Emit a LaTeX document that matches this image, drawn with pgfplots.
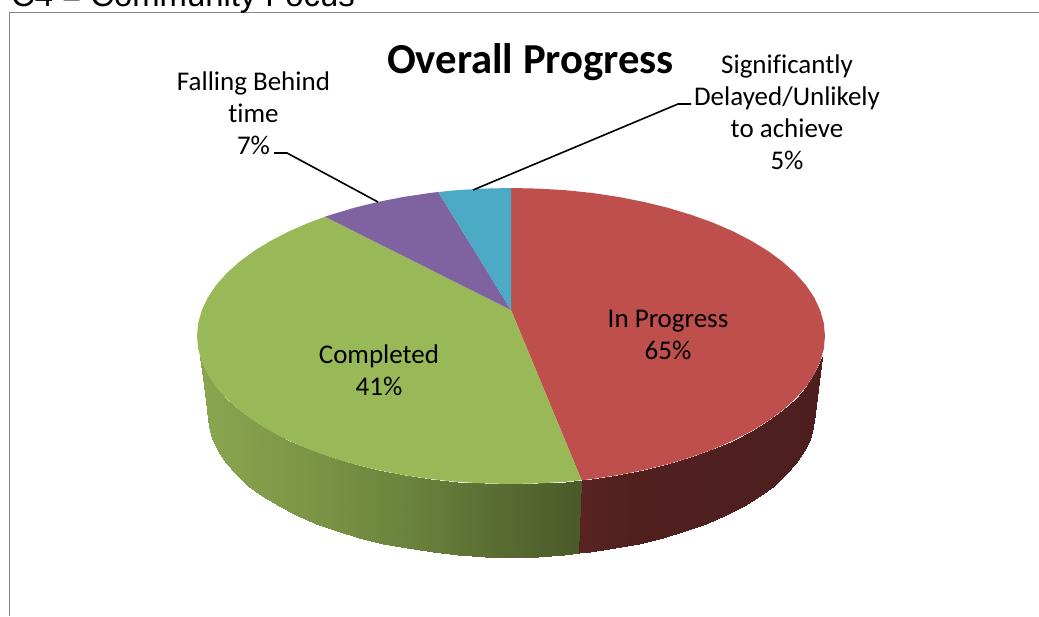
\documentclass[border=0pt]{standalone}
\usepackage{pgfplots}
\pgfplotsset{compat=1.18}
\usepackage{fontspec}
\setmainfont{Carlito}[Ligatures={NoCommon}]
\newfontfamily\arialf{Liberation Sans}
\definecolor{pr}{HTML}{BE4F4C}
\definecolor{pg}{HTML}{99B958}
\definecolor{pp}{HTML}{7F63A0}
\definecolor{pb}{HTML}{4BAAC5}
\definecolor{fr}{HTML}{868686}
\pgfplotstableread{
x y
200.1 356.6
201.0 359.0
201.8 361.7
207.7 374.3
215.9 386.6
226.4 398.5
239.1 410.0
253.8 420.9
270.5 431.1
289.0 440.7
309.2 449.4
330.9 457.2
354.0 464.2
378.3 470.1
403.6 475.1
429.7 479.0
456.5 481.8
483.6 483.4
511.0 484.0
538.4 483.4
565.5 481.8
581.6 480.2
207.5 414.0
208.7 426.5
212.1 438.8
217.8 451.0
225.8 462.9
235.9 474.4
248.2 485.5
262.4 496.0
278.5 505.9
296.4 515.1
315.9 523.5
336.9 531.1
359.2 537.8
382.7 543.6
407.2 548.4
432.5 552.1
458.3 554.8
484.5 556.5
511.0 557.0
537.5 556.5
563.7 554.8
579.3 553.3
}\greenwall
\pgfplotstableread{
x y
581.6 480.2
592.3 479.0
618.4 475.1
643.7 470.1
668.0 464.2
691.1 457.2
712.8 449.4
733.0 440.7
751.5 431.1
768.2 420.9
782.9 410.0
795.6 398.5
806.1 386.6
814.3 374.3
820.2 361.7
821.0 359.0
822.0 356.6
579.3 553.3
589.5 552.1
614.8 548.4
639.3 543.6
662.8 537.8
685.1 531.1
706.1 523.5
725.6 515.1
743.5 505.9
759.6 496.0
773.8 485.5
786.1 474.4
796.2 462.9
804.2 451.0
809.9 438.8
813.3 426.5
814.5 414.0
}\redwall
\begin{document}
\begin{tikzpicture}
\path[use as bounding box] (0,0) rectangle (1039pt,616pt);
\clip (0,0) rectangle (1039pt,616pt);
\begin{axis}[at={(0,0)},anchor=south west,scale only axis,width=1039pt,height=616pt,
  xmin=0,xmax=1039,ymin=0,ymax=616,y dir=reverse,hide axis,clip=false,
  point meta min=197,point meta max=825,
  axis line style={draw=none}]
% frame
\addplot[fr,line width=1.7pt] coordinates {(1039,12.5)(9.5,12.5)(9.5,616)};
% walls
\addplot[surf,shader=interp,mesh/rows=2,mesh/ordering=x varies,point meta=x,
  colormap={gw}{rgb255(0cm)=(139,166,80); rgb255(1.64cm)=(125,150,71); rgb255(3.23cm)=(108,133,62); rgb255(4.82cm)=(88,108,50); rgb255(6.13cm)=(74,90,40); rgb255(10cm)=(74,90,40)}]
  table[x=x,y=y]{\greenwall};
\addplot[surf,shader=interp,mesh/rows=2,mesh/ordering=x varies,point meta=x,
  colormap={rw}{rgb255(0cm)=(90,35,35); rgb255(6.13cm)=(90,35,35); rgb255(6.9cm)=(80,32,31); rgb255(10cm)=(76,31,30)}]
  table[x=x,y=y]{\redwall};
% red top face
\addplot[fill=pr,draw=none] coordinates {(511,310)(511,188)(538.4,188.6)(565.5,190.2)(592.3,193)(618.4,196.9)(643.7,201.9)(668,207.8)(691.1,214.8)(712.8,222.6)(733,231.3)(751.5,240.9)(768.2,251.1)(782.9,262)(795.6,273.5)(806.1,285.4)(814.3,297.7)(820.2,310.3)(823.8,323.1)(825,336)(823.8,348.9)(820.2,361.7)(814.3,374.3)(806.1,386.6)(795.6,398.5)(782.9,410)(768.2,420.9)(751.5,431.1)(733,440.7)(712.8,449.4)(691.1,457.2)(668,464.2)(643.7,470.1)(618.4,475.1)(592.3,479)(581.6,480.2)} -- cycle;
% green top face
\addplot[fill=pg,draw=none] coordinates {(511,310)(581.6,480.2)(565.5,481.8)(538.4,483.4)(511,484)(483.6,483.4)(456.5,481.8)(429.7,479)(403.6,475.1)(378.3,470.1)(354,464.2)(330.9,457.2)(309.2,449.4)(289,440.7)(270.5,431.1)(253.8,420.9)(239.1,410)(226.4,398.5)(215.9,386.6)(207.7,374.3)(201.8,361.7)(198.2,348.9)(197,336)(198.2,323.1)(201.8,310.3)(207.7,297.7)(215.9,285.4)(226.4,273.5)(239.1,262)(253.8,251.1)(270.5,240.9)(289,231.3)(309.2,222.6)(325,216.7)} -- cycle;
% purple
\addplot[fill=pp,draw=none] coordinates {(511,310)(325,216.7)(330.9,214.8)(354,207.8)(378.3,201.9)(403.6,196.9)(429.7,193)(438.2,192)} -- cycle;
% blue
\addplot[fill=pb,draw=none] coordinates {(511,310)(438.2,192)(456.5,190.2)(483.6,188.6)(511,188)} -- cycle;
% leaders
\addplot[black,line width=1.6pt] coordinates {(274,153)(287,153)(378,202)};
\addplot[black,line width=1.6pt] coordinates {(473,190)(678,104)(691,104)};
% text
\node[anchor=base west,font=\arialf\fontsize{32.8}{36}\selectfont,inner sep=0pt] at (axis cs:11,6.5) {C4 = Community Focus};
\node[font=\bfseries\fontsize{42.7}{46}\selectfont,inner sep=0pt] at (axis cs:530.5,62.5) {Overall Progress};
\node[align=center,font=\fontsize{27}{32}\selectfont,inner sep=0pt] at (axis cs:253.5,113) {Falling Behind\\time\\7\%};
\node[align=center,font=\fontsize{27}{32}\selectfont,inner sep=0pt] at (axis cs:787,112) {Significantly\\Delayed/Unlikely\\to achieve\\5\%};
\node[align=center,font=\fontsize{27}{32}\selectfont,inner sep=0pt] at (axis cs:668,335) {In Progress\\65\%};
\node[align=center,font=\fontsize{27}{32}\selectfont,inner sep=0pt] at (axis cs:379,370) {Completed\\41\%};
\end{axis}
\end{tikzpicture}
\end{document}
